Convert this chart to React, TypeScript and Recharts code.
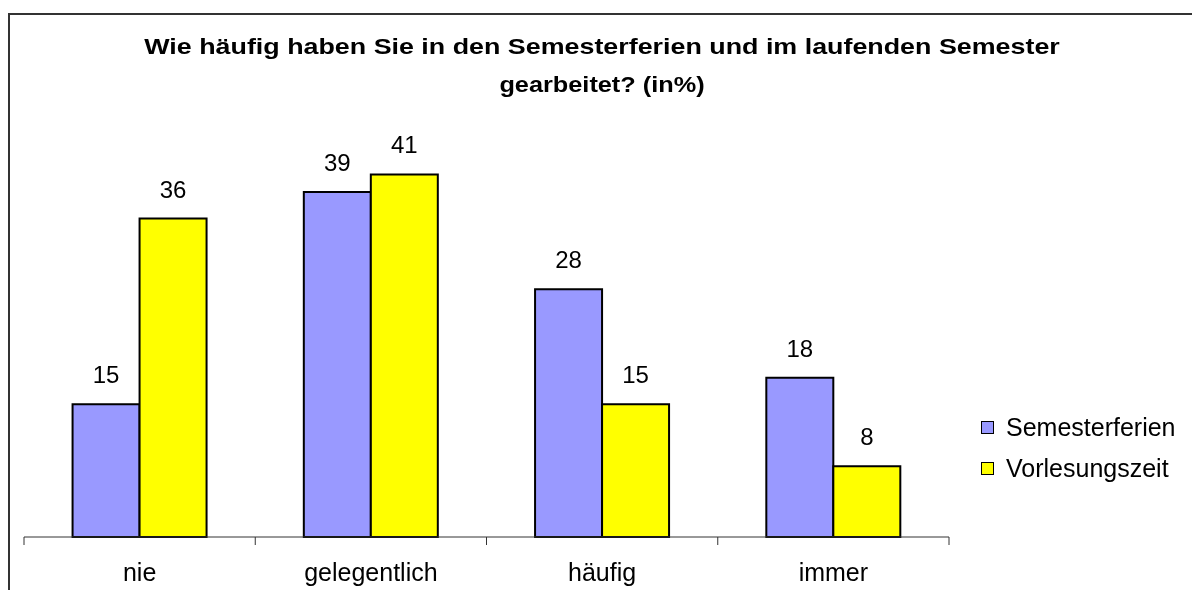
import { BarChart, Bar, XAxis, YAxis, Legend, LabelList } from "recharts";

const categories = ["nie", "gelegentlich", "häufig", "immer"];
const semesterferien = [15, 39, 28, 18];
const vorlesungszeit = [36, 41, 15, 8];
const seriesNames = ["Semesterferien", "Vorlesungszeit"];

const titleLines = [
  "Wie häufig haben Sie in den Semesterferien und im laufenden Semester",
  "gearbeitet? (in%)",
];

const FONT = "'Liberation Sans', Arial, sans-serif";
const CHART_W = 1182;
const CHART_H = 575;
const MARGIN = { top: 124, right: 243, bottom: 3, left: 14 };
const BAND = (CHART_W - MARGIN.left - MARGIN.right) / categories.length;

const data = categories.map((name, i) => ({
  name,
  sem: semesterferien[i],
  vor: vorlesungszeit[i],
}));

const CategoryTick = (props: any) => {
  const { x, y, payload, index } = props;
  const last = index === categories.length - 1;
  return (
    <g>
      <line x1={x - BAND / 2} x2={x - BAND / 2} y1={y} y2={y + 8} stroke="#333" />
      {last && <line x1={x + BAND / 2} x2={x + BAND / 2} y1={y} y2={y + 8} stroke="#333" />}
      <text x={x} y={y + 44} textAnchor="middle" fontSize={25} fontFamily={FONT} fill="#000">
        {payload.value}
      </text>
    </g>
  );
};

const LegendBox = (props: any) => {
  const { payload } = props;
  return (
    <div style={{ fontFamily: FONT }}>
      {payload.map((p: any) => (
        <div key={p.value} style={{ display: "flex", alignItems: "center", height: 41 }}>
          <span
            style={{
              width: 11,
              height: 11,
              background: p.color,
              border: "1.5px solid #000",
              marginRight: 12,
              boxSizing: "content-box",
            }}
          />
          <span style={{ fontSize: 25, lineHeight: "41px", color: "#000" }}>{p.value}</span>
        </div>
      ))}
    </div>
  );
};

export default function App() {
  return (
    <div
      style={{
        position: "fixed",
        left: 8,
        top: 13,
        width: 1184,
        height: 577,
        boxSizing: "border-box",
        borderTop: "2px solid #333",
        borderLeft: "2px solid #333",
        background: "#fff",
        fontFamily: FONT,
      }}
    >
      <div
        style={{
          position: "absolute",
          left: 0,
          top: 13,
          width: 1184,
          textAlign: "center",
          fontWeight: "bold",
          fontSize: 22,
          lineHeight: "38px",
          color: "#000",
        }}
      >
        <div style={{ transform: "scaleX(1.22)" }}>{titleLines[0]}</div>
        <div style={{ transform: "scaleX(1.15)" }}>{titleLines[1]}</div>
      </div>
      <BarChart
        width={CHART_W}
        height={CHART_H}
        data={data}
        margin={MARGIN}
        barCategoryGap="21%"
        barGap={0}
      >
        <XAxis
          dataKey="name"
          height={50}
          tickLine={false}
          tickSize={0}
          tickMargin={0}
          axisLine={{ stroke: "#333" }}
          tick={<CategoryTick />}
          interval={0}
        />
        <YAxis hide domain={[0, 45]} />
        <Legend
          layout="vertical"
          align="center"
          verticalAlign="middle"
          content={<LegendBox />}
          wrapperStyle={{ left: 971, top: 392, width: "auto" }}
        />
        <Bar dataKey="sem" name={seriesNames[0]} fill="#9999FF" stroke="#000" strokeWidth={2} isAnimationActive={false}>
          <LabelList dataKey="sem" position="top" offset={21} fontSize={24} fontFamily={FONT} fill="#000" />
        </Bar>
        <Bar dataKey="vor" name={seriesNames[1]} fill="#FFFF00" stroke="#000" strokeWidth={2} isAnimationActive={false}>
          <LabelList dataKey="vor" position="top" offset={21} fontSize={24} fontFamily={FONT} fill="#000" />
        </Bar>
      </BarChart>
    </div>
  );
}
